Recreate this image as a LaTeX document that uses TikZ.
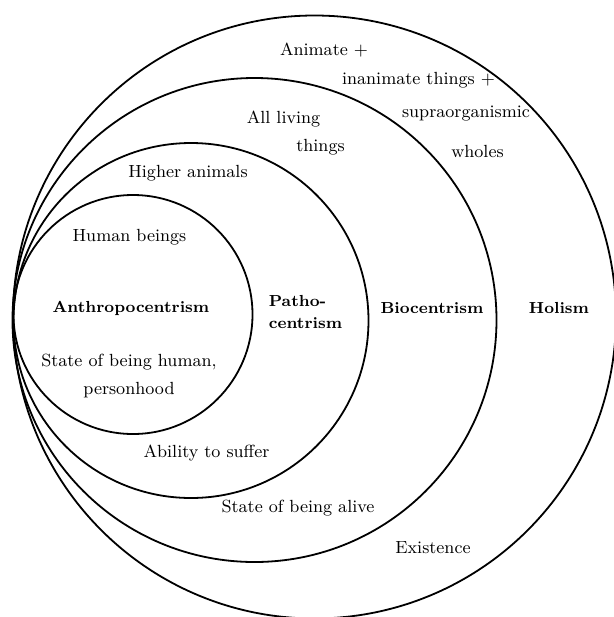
\documentclass[tikz,border=0pt]{standalone}
\usepackage{tikz}
\usetikzlibrary{positioning}

\begin{document}
\begin{tikzpicture}[x=0.5pt, y=-0.5pt,
  ring/.style ={circle, draw=black, line width=0.9pt, inner sep=0pt,
                outer sep=0pt, anchor=west},
  lbl/.style  ={font=\fontsize{8.8}{12}\selectfont, inner sep=0pt,
                align=center},
  head/.style ={font=\fontsize{8}{11}\selectfont\bfseries,
                inner sep=0pt, align=left},
]
\useasboundingbox (0,0) rectangle (614,617);

% === Rings (all touching on the left) ===
\node[ring, minimum size=301.5pt] (holism)  at (13,317)   {};
\node[ring, minimum size=242pt]   (bio)     at (12.5,320) {};
\node[ring, minimum size=177.5pt] (patho)   at (13.5,320.5) {};
\node[ring, minimum size=119.5pt] (anthro)  at (13.5,314.5) {};

% === Names of the positions ===
\node[head] (tAnthro) at (131,308) {Anthropocentrism};
\node[head, anchor=west] (tPatho) at (268.5,312) {Patho-\\centrism};
\node[head] (tBio)    at (432,308) {Biocentrism};
\node[head] (tHolism) at (559,308) {Holism};

% === Who counts (upper half) ===
\node[lbl] (human)   at (129.5,237.5) {Human beings};
\node[lbl] (higher)  at (188,173)     {Higher animals};
\node[lbl] (living)  at (283.5,119)   {All living};
\node[lbl] (living2) at (320.5,147)   {things};
\node[lbl] (animate) at (324,50)      {Animate +};
\node[lbl] (inanim)  at (418.5,80)    {inanimate things +};
\node[lbl] (supra)   at (466,114)     {supraorganismic};
\node[lbl] (wholes)  at (477.5,151)   {wholes};

% === Criterion (lower half) ===
\node[lbl] (person)  at (129,376) {State of being human,\\[2pt]personhood};
\node[lbl] (suffer)  at (206.5,453) {Ability to suffer};
\node[lbl] (alive)   at (298,508)   {State of being alive};
\node[lbl] (exist)   at (433,548)   {Existence};

\end{tikzpicture}
\end{document}
